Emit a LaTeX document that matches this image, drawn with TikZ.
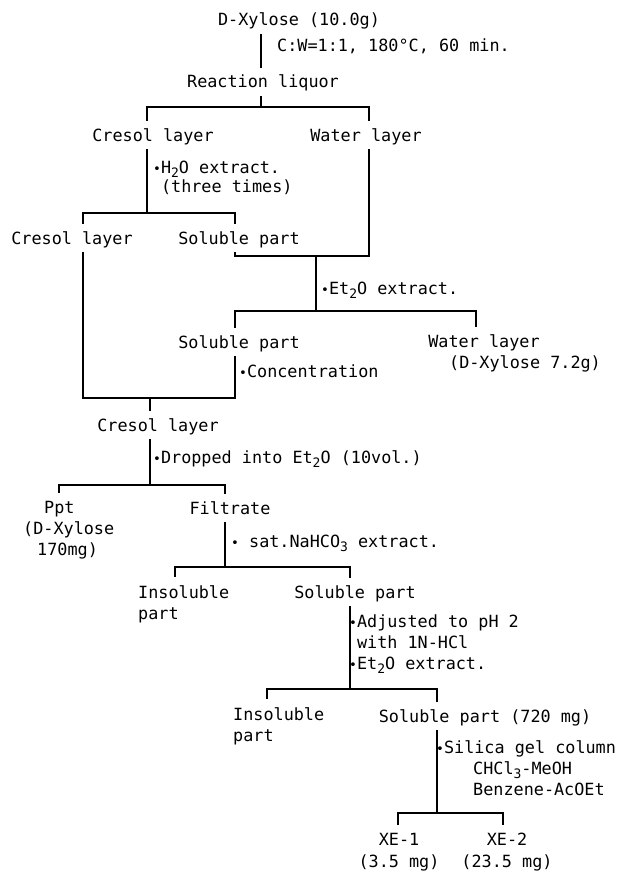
\documentclass[tikz,border=0pt]{standalone}
\usepackage{fontspec}
\newfontfamily\flowfont{DejaVu Sans Mono}
\newcommand{\lowsub}[1]{\raisebox{-4pt}{\fontsize{13}{13}\selectfont #1}}
\newcommand{\dotb}{{\fontsize{13}{13}\selectfont\textbullet}}

\begin{document}
\begin{tikzpicture}[
  x=1pt, y=-1pt,
  lbl/.style={font=\fontsize{16.8}{21}\selectfont\flowfont, inner xsep=0pt, inner ysep=8pt, text height=12pt, text depth=0pt},
  multi/.style={font=\fontsize{16.8}{21}\selectfont\flowfont, inner xsep=0pt, inner ysep=8pt},
  note/.style={font=\fontsize{16.8}{21}\selectfont\flowfont, inner sep=0pt, align=left, anchor=north west},
  wire/.style={line width=1.8pt}
]
\useasboundingbox (0,0) rectangle (626,872);

\node[lbl] (xyl) at (299,20) {D-Xylose (10.0g)};
\node[note] (cond) at (277,39) {C:W=1:1, 180°C, 60 min.};
\node[lbl] (rliq) at (263,82) {Reaction liquor};
\node[lbl] (cres1) at (153,135) {Cresol layer};
\node[lbl] (wat1) at (366,135) {Water layer};
\node[note] (h2o) at (153,161) {\dotb H\lowsub{2}O extract.\\[-2pt]\phantom{\dotb}(three times)};
\node[lbl] (cres2) at (72,238) {Cresol layer};
\node[lbl] (sol1) at (239,238) {Soluble part};
\node[note] (et1) at (321,282) {\dotb Et\lowsub{2}O extract.};
\node[lbl] (sol2) at (239,342) {Soluble part};
\node[lbl] (wat2) at (484,341) {Water layer};
\node[lbl] (wat2q) at (525,362) {(D-Xylose 7.2g)};
\node[note] (conc) at (239,365) {\dotb Concentration};
\node[lbl] (cres3) at (158,425) {Cresol layer};
\node[note] (drop) at (153,450) {\dotb Dropped into Et\lowsub{2}O (10vol.)};
\node[multi, align=left, anchor=north west] (ppt) at (23,493) {\hspace*{21pt}Ppt\\(D-Xylose\\\hspace*{14pt}170mg)};
\node[lbl] (filt) at (230,508) {Filtrate};
\node[note] (nahco) at (231,535) {\dotb\ sat.NaHCO\lowsub{3} extract.};
\node[multi, align=left, anchor=north west] (insol1) at (138,577) {Insoluble\\part};
\node[lbl] (sol3) at (355,592) {Soluble part};
\node[note] (adj) at (349,615) {\dotb Adjusted to pH 2\\\phantom{\dotb}with 1N-HCl\\\dotb Et\lowsub{2}O extract.};
\node[multi, align=left, anchor=north west] (insol2) at (233,699) {Insoluble\\part};
\node[lbl] (sol4) at (485,716) {Soluble part (720 mg)};
\node[note] (sil) at (436,740) {\dotb Silica gel column\\\hspace*{37pt}CHCl\lowsub{3}-MeOH\\\hspace*{37pt}Benzene-AcOEt};
\node[multi, align=center, anchor=north] (xe1) at (399,825) {XE-1\\[1pt](3.5 mg)};
\node[multi, align=center, anchor=north] (xe2) at (507,825) {XE-2\\[1pt](23.5 mg)};

\coordinate (b1) at (261,107);
\coordinate (b1l) at (147,107);
\coordinate (b1r) at (369,107);
\coordinate (b2) at (147,213);
\coordinate (b2l) at (83,213);
\coordinate (b2r) at (235,213);
\coordinate (j1l) at (235,256);
\coordinate (j1r) at (369,256);
\coordinate (j3) at (316,256);
\coordinate (b3) at (316,311);
\coordinate (b3l) at (235,311);
\coordinate (b3r) at (476,311);
\coordinate (c1) at (150,398);
\coordinate (c1l) at (83,398);
\coordinate (c1r) at (235,398);
\coordinate (b4) at (150,485);
\coordinate (b4l) at (59,485);
\coordinate (b4r) at (225,485);
\coordinate (b5) at (225,567);
\coordinate (b5l) at (175,567);
\coordinate (b5r) at (350,567);
\coordinate (b6) at (350,689);
\coordinate (b6l) at (267,689);
\coordinate (b6r) at (437,689);
\coordinate (b7) at (437,813);
\coordinate (b7l) at (398,813);
\coordinate (b7r) at (503,813);

\draw[wire] (xyl.south -| b1) -- (rliq.north -| b1);
\draw[wire] (rliq.south -| b1) -- (b1);
\draw[wire] (cres1.north -| b1l) -- (b1l) -- (b1r) -- (wat1.north -| b1r);
\draw[wire] (cres1.south -| b2) -- (b2);
\draw[wire] (cres2.north -| b2l) -- (b2l) -- (b2r) -- (sol1.north -| b2r);
\draw[wire] (wat1.south -| b1r) -- (j1r) -- (j1l) -- (sol1.south -| j1l);
\draw[wire] (j3) -- (b3);
\draw[wire] (sol2.north -| b3l) -- (b3l) -- (b3r) -- (wat2.north -| b3r);
\draw[wire] (cres2.south -| c1l) -- (c1l) -- (c1r) -- (sol2.south -| c1r);
\draw[wire] (c1) -- (cres3.north -| c1);
\draw[wire] (cres3.south -| b4) -- (b4);
\draw[wire] (ppt.north -| b4l) -- (b4l) -- (b4r) -- (filt.north -| b4r);
\draw[wire] (filt.south -| b5) -- (b5);
\draw[wire] (insol1.north -| b5l) -- (b5l) -- (b5r) -- (sol3.north -| b5r);
\draw[wire] (sol3.south -| b6) -- (b6);
\draw[wire] (insol2.north -| b6l) -- (b6l) -- (b6r) -- (sol4.north -| b6r);
\draw[wire] (sol4.south -| b7) -- (b7);
\draw[wire] (xe1.north -| b7l) -- (b7l) -- (b7r) -- (xe2.north -| b7r);
\end{tikzpicture}
\end{document}
